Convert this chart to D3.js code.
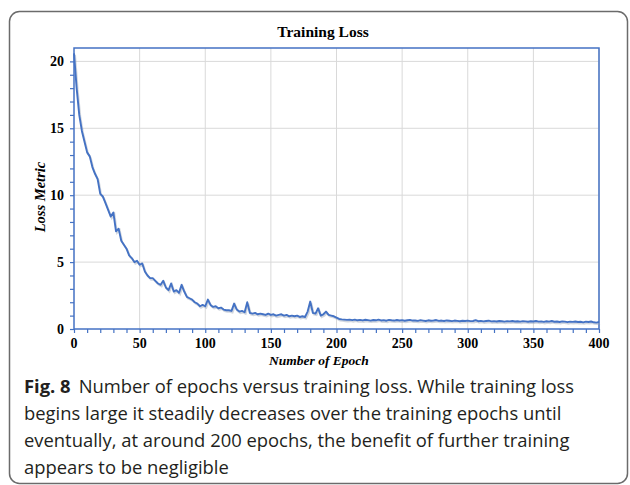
<!DOCTYPE html>
<html>
<head>
<meta charset="utf-8">
<script src="https://cdn.jsdelivr.net/npm/d3@7"></script>
<style>
  body { margin: 0; background: #fff; }
</style>
</head>
<body>
<svg id="chart" width="630" height="485"></svg>
<script>
const epochStep = 2;
const loss = [
  20.6, 18.0, 16.0, 14.8, 14.0, 13.2, 12.9, 12.1, 11.6, 11.2,
  10.1, 9.9, 9.4, 8.9, 8.4, 8.7, 7.3, 7.5, 6.6, 6.3,
  6.0, 5.5, 5.3, 5.0, 5.1, 4.8, 4.9, 4.3, 4.0, 3.8,
  3.8, 3.6, 3.4, 3.3, 3.6, 3.1, 2.9, 3.4, 2.8, 2.9,
  2.7, 3.3, 2.8, 2.4, 2.3, 2.2, 2.0, 1.9, 1.7, 1.8,
  1.7, 2.2, 1.8, 1.65, 1.7, 1.55, 1.6, 1.45, 1.4, 1.4,
  1.35, 1.9, 1.45, 1.3, 1.35, 1.25, 2.0, 1.2, 1.15, 1.2,
  1.1, 1.15, 1.1, 1.05, 1.15, 1.05, 1.1, 1.0, 1.05, 1.1,
  1.0, 1.05, 0.95, 1.0, 0.95, 1.0, 0.9, 0.95, 0.9, 1.3,
  2.05, 1.2, 1.15, 1.55, 1.0, 1.1, 1.3, 1.05, 1.0, 0.95,
  0.85, 0.75, 0.72, 0.7, 0.68, 0.7,
  0.66, 0.7, 0.65, 0.68, 0.64, 0.69, 0.66, 0.63, 0.67, 0.65,
  0.7, 0.64, 0.66, 0.62, 0.68, 0.65, 0.63, 0.67, 0.64, 0.66,
  0.62, 0.65, 0.68, 0.63, 0.64, 0.61, 0.66, 0.63, 0.6, 0.65,
  0.62, 0.64, 0.67, 0.61, 0.63, 0.6, 0.64, 0.62, 0.59, 0.63,
  0.61, 0.58, 0.62, 0.6, 0.63, 0.59, 0.6, 0.66, 0.58, 0.61,
  0.57, 0.6, 0.62, 0.57, 0.59, 0.56, 0.6, 0.58, 0.55, 0.59,
  0.57, 0.6, 0.56, 0.58, 0.55, 0.59, 0.57, 0.54, 0.58, 0.56,
  0.6, 0.55, 0.57, 0.53, 0.58, 0.55, 0.6, 0.54, 0.56, 0.52,
  0.57, 0.55, 0.51, 0.55, 0.53, 0.56, 0.52, 0.54, 0.5, 0.55,
  0.52, 0.56, 0.5, 0.48, 0.52
];
const xTicks = [0, 50, 100, 150, 200, 250, 300, 350, 400];
const yTicks = [0, 5, 10, 15, 20];
const captionLines = [
  "Number of epochs versus training loss. While training loss",
  "begins large it steadily decreases over the training epochs until",
  "eventually, at around 200 epochs, the benefit of further training",
  "appears to be negligible"
];

const blue = "#4472c4";
const plotL = 74, plotR = 599, plotT = 48, plotB = 329;
const serif = "'Liberation Serif', 'Times New Roman', serif";

const svg = d3.select("#chart");

// outer frame of the figure
svg.append("rect")
  .attr("x", 9.5).attr("y", 11.5)
  .attr("width", 618).attr("height", 472)
  .attr("rx", 10)
  .attr("fill", "none")
  .attr("stroke", "#6b6b6b")
  .attr("stroke-width", 1.5);

const x = d3.scaleLinear().domain([0, 400]).range([plotL, plotR]);
const y = d3.scaleLinear().domain([0, 21]).range([plotB, plotT]);

// grid
svg.append("g").selectAll("line")
  .data(xTicks.slice(1))
  .enter().append("line")
  .attr("x1", d => x(d)).attr("x2", d => x(d))
  .attr("y1", plotT).attr("y2", plotB)
  .attr("stroke", "#d9d9d9").attr("stroke-width", 1);

svg.append("g").selectAll("line")
  .data(yTicks.slice(1))
  .enter().append("line")
  .attr("x1", plotL).attr("x2", plotR)
  .attr("y1", d => y(d)).attr("y2", d => y(d))
  .attr("stroke", "#d9d9d9").attr("stroke-width", 1);

// axes
const xAxis = svg.append("g")
  .attr("transform", "translate(0," + plotB + ")")
  .call(d3.axisBottom(x).tickValues(d3.range(0, 401, 10)).tickSize(4).tickFormat(""));
const yAxis = svg.append("g")
  .attr("transform", "translate(" + plotL + ",0)")
  .call(d3.axisLeft(y).tickValues(d3.range(0, 21, 1)).tickSize(4).tickFormat(""));
[xAxis, yAxis].forEach(a => {
  a.select(".domain").remove();
  a.selectAll("line").attr("stroke", blue).attr("stroke-width", 1.2);
});

// plot border
svg.append("rect")
  .attr("x", plotL).attr("y", plotT)
  .attr("width", plotR - plotL).attr("height", plotB - plotT)
  .attr("fill", "none")
  .attr("stroke", blue)
  .attr("stroke-width", 1.5);

// tick labels
svg.append("g").selectAll("text")
  .data(xTicks)
  .enter().append("text")
  .attr("x", d => x(d))
  .attr("y", 348)
  .attr("text-anchor", "middle")
  .style("font-family", serif)
  .style("font-weight", "bold")
  .style("font-size", "14px")
  .text(d => d);

svg.append("g").selectAll("text")
  .data(yTicks)
  .enter().append("text")
  .attr("x", 64)
  .attr("y", d => y(d) + 5)
  .attr("text-anchor", "end")
  .style("font-family", serif)
  .style("font-weight", "bold")
  .style("font-size", "14px")
  .text(d => d);

// the loss curve, with a faint shadow like the original
const line = d3.line()
  .x((d, i) => x(i * epochStep))
  .y(d => y(d));

svg.append("path")
  .datum(loss)
  .attr("d", line)
  .attr("transform", "translate(1,1.5)")
  .attr("fill", "none")
  .attr("stroke", "#9aa3b5")
  .attr("stroke-opacity", 0.45)
  .attr("stroke-width", 2);

svg.append("path")
  .datum(loss)
  .attr("d", line)
  .attr("fill", "none")
  .attr("stroke", blue)
  .attr("stroke-width", 1.9)
  .attr("stroke-linejoin", "round");

// titles
svg.append("text")
  .attr("x", 323)
  .attr("y", 37)
  .attr("text-anchor", "middle")
  .style("font-family", serif)
  .style("font-weight", "bold")
  .style("font-size", "15.5px")
  .text("Training Loss");

svg.append("text")
  .attr("x", 319)
  .attr("y", 365)
  .attr("text-anchor", "middle")
  .style("font-family", serif)
  .style("font-weight", "bold")
  .style("font-style", "italic")
  .style("font-size", "13.5px")
  .text("Number of Epoch");

svg.append("text")
  .attr("transform", "translate(45,197) rotate(-90)")
  .attr("text-anchor", "middle")
  .style("font-family", serif)
  .style("font-weight", "bold")
  .style("font-style", "italic")
  .style("font-size", "14.5px")
  .text("Loss Metric");

// caption
const caption = svg.append("g")
  .style("font-family", "'Open Sans', 'Noto Sans', sans-serif")
  .style("font-size", "18.4px")
  .attr("fill", "#231f20");

caption.selectAll("text")
  .data(captionLines)
  .enter().append("text")
  .attr("x", 24)
  .attr("y", (d, i) => 393 + i * 27)
  .each(function (d, i) {
    const t = d3.select(this);
    if (i === 0) {
      t.append("tspan").style("font-weight", "bold").text("Fig. 8");
      t.append("tspan").attr("dx", 8).text(d);
    } else {
      t.text(d);
    }
  });
</script>
</body>
</html>
